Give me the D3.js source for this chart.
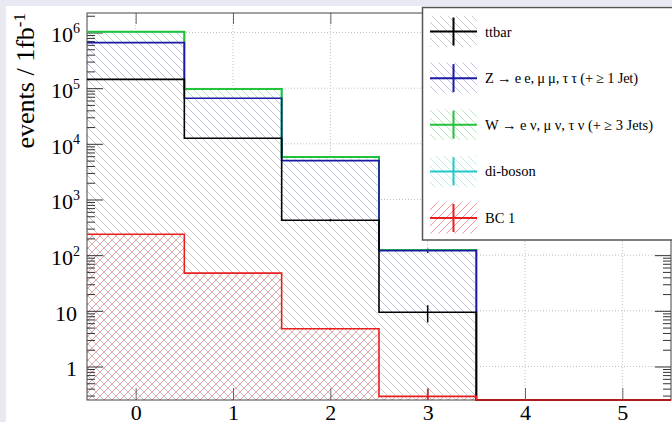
<!DOCTYPE html>
<html>
<head>
<meta charset="utf-8">
<script src="https://cdn.jsdelivr.net/npm/d3@7"></script>
<style>
  html, body { margin: 0; padding: 0; background: #e9e9f4; }
  svg { display: block; }
  text { font-family: "Liberation Serif", "Times New Roman", serif; fill: #000; }
</style>
</head>
<body>
<svg id="chart" width="672" height="422"></svg>
<script>
// ---- data: expected events per bin (stacked backgrounds + overlaid signal) ----
const bins = [0, 1, 2, 3, 4, 5];
const ttbar   = [144000, 12600, 423, 9.4, 0, 0];
const zjets   = [513000, 53200, 4560, 111, 0, 0];
const wjets   = [373000, 30900, 840, 4, 0, 0];
const diboson = [350, 45, 6, 0.3, 0, 0];
const bc1     = [238, 47.5, 4.75, 0.29, 0, 0];

// statistical uncertainties per bin
const ttbarErr   = [380, 110, 18, 3.2, 0, 0];
const zjetsErr   = [700, 230, 60, 11, 0, 0];
const wjetsErr   = [600, 180, 30, 2, 0, 0];
const dibosonErr = [10, 4, 1, 0.1, 0, 0];
const bc1Err     = [3, 1.4, 0.22, 0.11, 0, 0];

const legendLabels = [
  "ttbar",
  "Z \u2192 e e, \u03bc \u03bc, \u03c4 \u03c4 (+ \u2265 1 Jet)",
  "W \u2192 e \u03bd, \u03bc \u03bd, \u03c4 \u03bd (+ \u2265 3 Jets)",
  "di-boson",
  "BC 1"
];
// set widths for the labels that carry symbols (TLatex-style spacing)
const legendWidths = [null, 153, 168, null, null];
const yMajorLabels = ["1", "10", "10|2", "10|3", "10|4", "10|5", "10|6"];
const xTicks = [0, 1, 2, 3, 4, 5];

// ---- layout ----
const W = 672, H = 422;
const L = 87, R = 671, T = 13, B = 400;
const yMin = 0.25, yMax = 2.24e6;

const svg = d3.select("#chart");
svg.append("rect").attr("width", W).attr("height", H).attr("fill", "#e9e9f4");
svg.append("rect").attr("x", 6).attr("y", 6).attr("width", W - 6).attr("height", H - 6).attr("fill", "#fff");

const x = d3.scaleLinear().domain([-0.5, 5.5]).range([L, R]);
const y = d3.scaleLog().domain([yMin, yMax]).range([B, T]);
const yc = v => y(Math.max(v, yMin));

// ---- hatch patterns ----
const defs = svg.append("defs");
function hatch(id, color, dir) {
  const p = defs.append("pattern").attr("id", id)
    .attr("patternUnits", "userSpaceOnUse").attr("width", 8).attr("height", 8);
  const d = dir === "back"
    ? "M0,0 L8,8 M-2,6 L2,10 M6,-2 L10,2"
    : "M0,8 L8,0 M-2,2 L2,-2 M6,10 L10,6";
  p.append("path").attr("d", d).attr("stroke", color).attr("stroke-width", 0.9).attr("fill", "none");
}

const series = [
  { key: "tt", values: ttbar,   err: ttbarErr,   line: "#000000", fill: "#c8c8c8", dir: "back" },
  { key: "z",  values: zjets,   err: zjetsErr,   line: "#1a1aa6", fill: "#bcbce8", dir: "back" },
  { key: "w",  values: wjets,   err: wjetsErr,   line: "#22c33a", fill: "#b4e6b6", dir: "back" },
  { key: "vv", values: diboson, err: dibosonErr, line: "#22c8c8", fill: "#b4eaea", dir: "back" }
];
const signal = { key: "bc", values: bc1, err: bc1Err, line: "#e82020", fill: "#ee8c8c", dir: "fwd" };

series.concat([signal]).forEach(s => hatch("h-" + s.key, s.fill, s.dir));

// stacked totals
let running = bins.map(() => 0);
series.forEach(s => {
  running = running.map((r, i) => r + s.values[i]);
  s.cum = running.slice();
});
signal.cum = signal.values.slice();

const stepPts = vals => bins.map((b, i) => [b - 0.5, vals[i]]).concat([[bins[bins.length - 1] + 0.5, vals[vals.length - 1]]]);
const stepLine = d3.line().x(d => x(d[0])).y(d => yc(d[1])).curve(d3.curveStepAfter);
const stepArea = d3.area().x(d => x(d[0])).y0(B).y1(d => yc(d[1])).curve(d3.curveStepAfter);

// ---- grid ----
const grid = svg.append("g").attr("stroke", "#c2c2c2").attr("stroke-dasharray", "1,2").attr("stroke-width", 1);
const decades = y.ticks().filter(v => Math.abs(Math.log10(v) - Math.round(Math.log10(v))) < 1e-9);
grid.selectAll(".gy").data(decades).join("line")
  .attr("x1", L).attr("x2", R).attr("y1", d => y(d)).attr("y2", d => y(d));
grid.selectAll(".gx").data(xTicks).join("line")
  .attr("x1", d => x(d)).attr("x2", d => x(d)).attr("y1", T).attr("y2", B);

// ---- filled hatches ----
const stackTop = series[series.length - 1];
svg.append("path").attr("d", stepArea(stepPts(stackTop.cum))).attr("fill", "#fff");
series.slice().reverse().forEach(s => {
  svg.append("path").attr("d", stepArea(stepPts(s.cum))).attr("fill", `url(#h-${s.key})`);
});
svg.append("path").attr("d", stepArea(stepPts(signal.cum))).attr("fill", "url(#h-bc)");

// ---- axes ----
const majors = decades;
const minors = y.ticks().filter(v => !majors.includes(v));
function styleAxis(g, color) {
  g.select(".domain").remove();
  g.selectAll(".tick line").attr("stroke", color).attr("stroke-width", 1);
}
svg.append("g").attr("transform", `translate(${L},0)`)
  .call(d3.axisLeft(y).tickValues(majors).tickSize(-16).tickFormat(""))
  .call(g => styleAxis(g, "#333"));
svg.append("g").attr("transform", `translate(${L},0)`)
  .call(d3.axisLeft(y).tickValues(minors).tickSize(-8).tickFormat(""))
  .call(g => styleAxis(g, "#333"));
svg.append("g").attr("transform", `translate(${R},0)`)
  .call(d3.axisRight(y).tickValues(majors).tickSize(-16).tickFormat(""))
  .call(g => styleAxis(g, "#333"));
svg.append("g").attr("transform", `translate(${R},0)`)
  .call(d3.axisRight(y).tickValues(minors).tickSize(-8).tickFormat(""))
  .call(g => styleAxis(g, "#333"));

const xb = svg.append("g").attr("transform", `translate(0,${B})`)
  .call(d3.axisBottom(x).tickValues(xTicks).tickSize(-12).tickPadding(4).tickFormat(d3.format("d")));
styleAxis(xb, "#666");
xb.selectAll("text").attr("font-size", 22).attr("font-family", "Liberation Serif, serif").attr("fill", "#000");
const xt = svg.append("g").attr("transform", `translate(0,${T})`)
  .call(d3.axisTop(x).tickValues(xTicks).tickSize(-11).tickFormat(""));
styleAxis(xt, "#666");

// frame
svg.append("rect").attr("x", L).attr("y", T).attr("width", R - L).attr("height", B - T)
  .attr("fill", "none").attr("stroke", "#444").attr("stroke-width", 1);

// y tick labels
const yl = svg.append("g");
majors.forEach((v, i) => {
  const parts = yMajorLabels[i].split("|");
  const t = yl.append("text").attr("y", y(v) + 10).attr("font-size", 22).attr("text-anchor", "end")
    .attr("x", parts.length > 1 ? 80 : 77);
  t.append("tspan").text(parts[0]);
  if (parts.length > 1) {
    t.append("tspan").attr("font-size", 14).attr("dy", -9.5).text(parts[1]);
  }
});

// y title
const yt = svg.append("text").attr("transform", `translate(34,${T}) rotate(-90)`)
  .attr("text-anchor", "end").attr("font-size", 26);
yt.append("tspan").text("events / 1fb");
yt.append("tspan").attr("font-size", 17).attr("dy", -9).text("-1");

// ---- outlines (top of stack first) ----
series.slice().reverse().forEach(s => {
  svg.append("path").attr("d", stepLine(stepPts(s.cum))).attr("fill", "none")
    .attr("stroke", s.line).attr("stroke-width", s.key === "w" ? 2 : 1.6);
});
svg.append("path").attr("d", stepLine(stepPts(signal.cum))).attr("fill", "none")
  .attr("stroke", signal.line).attr("stroke-width", 1.6);

// ---- error bars ----
series.concat([signal]).forEach(s => {
  svg.append("g").selectAll("line").data(bins.filter((b, i) => s.err[i] > 0)).join("line")
    .attr("x1", d => x(d)).attr("x2", d => x(d))
    .attr("y1", d => yc(s.cum[d] + s.err[d]))
    .attr("y2", d => yc(s.cum[d] - s.err[d]))
    .attr("stroke", s.line).attr("stroke-width", 1.5);
});

// ---- legend ----
const leg = svg.append("g");
leg.append("rect").attr("x", 422.5).attr("y", 7.5).attr("width", 260).attr("height", 232.5)
  .attr("fill", "#fff").attr("stroke", "#555").attr("stroke-width", 1.5);
const legItems = series.concat([signal]);
const ly = d3.scalePoint().domain(legendLabels).range([31.5, 218]);
legItems.forEach((s, i) => {
  const cy = ly(legendLabels[i]);
  const g = leg.append("g");
  g.append("rect").attr("x", 430).attr("y", cy - 15.5).attr("width", 47).attr("height", 31)
    .attr("fill", `url(#h-${s.key})`);
  g.append("line").attr("x1", 430).attr("x2", 477).attr("y1", cy).attr("y2", cy)
    .attr("stroke", s.line).attr("stroke-width", 2);
  g.append("line").attr("x1", 453.5).attr("x2", 453.5).attr("y1", cy - 14).attr("y2", cy + 14)
    .attr("stroke", s.line).attr("stroke-width", 2);
  const t = g.append("text").attr("x", 485).attr("y", cy).attr("dy", "0.35em").attr("font-size", 14.5)
    .text(legendLabels[i]);
  if (legendWidths[i]) t.attr("textLength", legendWidths[i]).attr("lengthAdjust", "spacing");
});
</script>
</body>
</html>
